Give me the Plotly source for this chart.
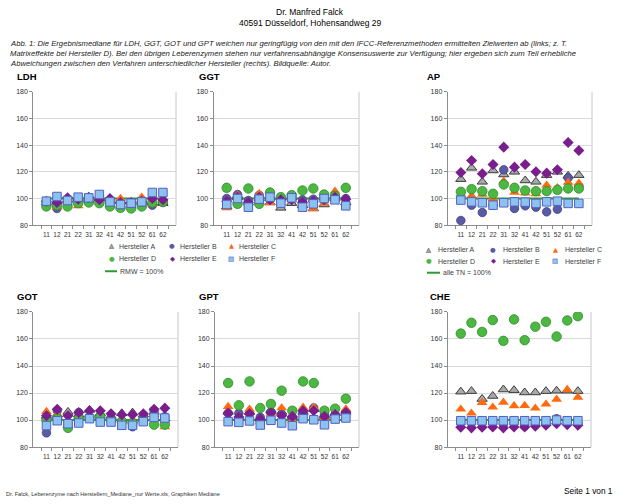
import plotly.graph_objects as go

W, H = 620, 504
FONT = "Liberation Sans, Arial, sans-serif"

categories = ["11", "12", "21", "22", "31", "32", "41", "42", "51", "52", "61", "62"]
series_names = ["Hersteller A", "Hersteller B", "Hersteller C", "Hersteller D", "Hersteller E", "Hersteller F"]
y_ticks = [80, 100, 120, 140, 160, 180]
ref_line = [100, 100, 100, 100, 100, 100, 100, 100, 100, 100, 100, 100]

ldh_a = [97, 98, 99, 100, 99, 100, 99, 98, 97, 98, 97, 96.5]
ldh_b = [97, 92.5, 98, 99, 100, 100, 97, 96, 96, 96, 95, 97]
ldh_c = [97, 93.5, 99, 94.5, 101, 101, 99, 100, 97, 101, 96, 98]
ldh_d = [94, 95, 94, 96.5, 97, 96.5, 94, 93, 92.5, 94, 97, 97.5]
ldh_e = [98, 97, 100.5, 99.5, 101, 99, 100, 97, 97, 98, 100, 99]
ldh_f = [98, 101.5, 98.5, 101, 100.5, 103, 97.5, 95.5, 96.5, 97.5, 104.5, 104.5]

ggt_a = [94, 101, 97, 100, 97, 93, 96.5, 95, 92.5, 95.5, 100, 97]
ggt_b = [100, 103, 98.5, 102.5, 100, 99, 100.5, 99, 99.5, 100, 100, 100]
ggt_c = [93, 102.5, 97, 103.5, 97, 97, 99, 96.5, 92.5, 96.5, 105.5, 98]
ggt_d = [108, 96, 107.5, 96, 104.5, 101, 102.5, 106, 107.5, 103, 102, 108]
ggt_e = [98, 101, 97, 101, 99, 99, 99, 97, 98, 99, 101, 99.5]
ggt_f = [95.5, 100, 93.5, 99.5, 101, 96.5, 100.5, 93.5, 96, 100, 99, 94.5]

ap_a = [114.5, 123, 112.5, 121, 118, 120, 113.5, 112.5, 117.5, 120, 117, 117.5]
ap_b = [83.5, 95, 89.5, 95, 121.5, 92.5, 94.5, 93.5, 90, 92, 115.5, 109]
ap_c = [103, 102, 103, 100, 113, 104.5, 104, 103.5, 110, 108, 112, 111.5]
ap_d = [105, 107, 105.5, 103.5, 110.5, 108, 106, 105.5, 105.5, 106.5, 107.5, 107.5]
ap_e = [119.5, 128.5, 118.5, 125.5, 138.5, 123.5, 125.5, 120, 119, 121.5, 142, 136]
ap_f = [98.8, 97.5, 96.8, 95, 96.8, 97.5, 97.3, 96.3, 97.5, 98, 96.3, 96.3]

got_a = [103, 104, 106, 104, 107.5, 105, 103, 105, 105.5, 104, 106, 101]
got_b = [90.5, 107, 97, 105.5, 102, 101, 101, 99, 95, 100, 107, 102.5]
got_c = [106.3, 104, 100, 103, 104, 103.5, 102, 100, 100, 102, 104, 95]
got_d = [100, 101, 94.2, 101, 102, 102.5, 100, 99, 98, 100, 96.6, 96.6]
got_e = [103.2, 108, 103.2, 105.6, 106.8, 106.8, 104.6, 103.9, 103.9, 104.6, 108, 108.8]
got_f = [95.9, 99.5, 97.3, 97.8, 101, 98.5, 98.5, 96.1, 96.1, 98.8, 102, 101.5]

gpt_a = [106, 102, 106, 101, 107.5, 106, 103, 106, 108, 103, 105, 106]
gpt_b = [105, 105, 105, 102, 106, 104, 101, 106, 109, 104, 104, 106]
gpt_c = [110, 103, 108, 99, 105, 109, 100, 109.4, 109.4, 101, 103, 108.1]
gpt_d = [127.4, 110.9, 128.6, 108.9, 111.9, 121.7, 106.9, 128.6, 127.4, 106.9, 108.4, 115.8]
gpt_e = [105.2, 102.2, 104.7, 100.7, 105.2, 103.2, 102.7, 106.9, 106.9, 102.7, 104, 105.7]
gpt_f = [98.8, 98.3, 99.3, 96.3, 99.8, 97.8, 95.8, 101, 100.2, 96.5, 100.7, 101.5]

che_a = [121, 121.4, 115.6, 117.8, 122.6, 122.1, 120.4, 120.4, 121.4, 121.7, 121.7, 121.4]
che_b = [98, 98, 98, 98, 97, 98, 95.5, 97, 98, 101, 98.5, 98]
che_c = [108, 105.1, 112.9, 109.5, 113.1, 110.5, 110.7, 108.8, 111.7, 115.3, 122.6, 116.8]
che_d = [164, 172, 165.2, 174, 158.6, 174.5, 159.1, 169.1, 172.7, 161.8, 173.7, 176.9]
che_e = [94.6, 94.2, 94.6, 94.9, 94.2, 94.9, 94.9, 95.4, 96.1, 97.3, 96.6, 96.1]
che_f = [99.5, 99.5, 99.5, 99.5, 99.5, 99.5, 99.5, 99.5, 99.5, 100, 99.5, 99.5]

panel_titles = ["LDH", "GGT", "AP", "GOT", "GPT", "CHE"]
panel_data = [
    [ldh_a, ldh_b, ldh_c, ldh_d, ldh_e, ldh_f],
    [ggt_a, ggt_b, ggt_c, ggt_d, ggt_e, ggt_f],
    [ap_a, ap_b, ap_c, ap_d, ap_e, ap_f],
    [got_a, got_b, got_c, got_d, got_e, got_f],
    [gpt_a, gpt_b, gpt_c, gpt_d, gpt_e, gpt_f],
    [che_a, che_b, che_c, che_d, che_e, che_f],
]

# --- layout helpers (pixel -> paper) ---
def X(px):
    return px / W

def Y(py):
    return 1 - py / H

# plot areas in pixels: (left, right, top, bottom)
boxes = [
    (33.3, 176, 89, 224.3),
    (213.5, 359, 89, 224.3),
    (447.7, 592, 89, 224.3),
    (33.3, 178, 312.3, 449.3),
    (215, 359, 312.3, 449.3),
    (447.7, 591, 312.3, 449.3),
]
title_pos = [(15, 73.5), (197, 73.5), (425, 73.5), (15, 297), (197, 297), (428, 297)]

marker_styles = [
    dict(symbol="triangle-up", size=9, color="#a9a9a9", line=dict(color="#3c3c3c", width=1)),
    dict(symbol="circle", size=8.5, color="#5a5ca3", line=dict(color="#3d3f85", width=0.8)),
    dict(symbol="triangle-up", size=9.5, color="#ff6a10", line=dict(color="#ff6a10", width=0)),
    dict(symbol="circle", size=9.5, color="#4cb842", line=dict(color="#2f8a2a", width=0.8)),
    dict(symbol="diamond", size=8.5, color="#7a1e8e", line=dict(color="#7a1e8e", width=0)),
    dict(symbol="square", size=8.5, color="#8ec2ee", line=dict(color="#5060c4", width=1)),
]
GREEN = "#2f9a30"

fig = go.Figure()
layout = dict(
    width=W, height=H, margin=dict(l=0, r=0, t=0, b=0),
    paper_bgcolor="white", plot_bgcolor="white", showlegend=False,
    font=dict(family=FONT, size=7, color="#333333"),
)
annotations = []
shapes = []

for i, (title, series) in enumerate(zip(panel_titles, panel_data)):
    n = "" if i == 0 else str(i + 1)
    xa, ya = "x" + n, "y" + n
    l, r, t, b = boxes[i]
    layout["xaxis" + n] = dict(
        domain=[X(l), X(r)], anchor=ya, type="category", categoryorder="array",
        categoryarray=categories, tickson="boundaries", ticks="outside", ticklen=3,
        tickcolor="#8c8c8c", showline=True, linecolor="#8c8c8c", linewidth=1,
        showgrid=False, zeroline=False, tickangle=0, ticklabelstandoff=3,
        tickfont=dict(size=6.5, color="#333333"), fixedrange=True,
    )
    layout["yaxis" + n] = dict(
        domain=[Y(b), Y(t)], anchor=xa, range=[80, 180], tickvals=y_ticks,
        ticks="outside", ticklen=3, tickcolor="#8c8c8c", showline=True,
        linecolor="#8c8c8c", linewidth=1, showgrid=True, gridcolor="#d9d9d9",
        gridwidth=1, zeroline=False, tickfont=dict(size=7, color="#333333"),
        fixedrange=True,
    )
    # frame on the right side of the plot area
    shapes.append(dict(type="line", xref=xa + " domain", yref=ya + " domain",
                       x0=1, x1=1, y0=0, y1=1, line=dict(color="#c8c8c8", width=1),
                       layer="below"))
    # reference line
    fig.add_trace(go.Scatter(x=categories, y=ref_line, mode="lines",
                             line=dict(color=GREEN, width=2), xaxis=xa, yaxis=ya,
                             hoverinfo="skip"))
    for name, vals, ms in zip(series_names, series, marker_styles):
        fig.add_trace(go.Scatter(x=categories, y=vals, mode="markers", name=name,
                                 marker=ms, xaxis=xa, yaxis=ya))
    tx, ty = title_pos[i]
    annotations.append(dict(text="<b>%s</b>" % title, x=X(tx), y=Y(ty), xref="paper",
                            yref="paper", xanchor="left", yanchor="middle",
                            showarrow=False, font=dict(size=9.5, color="black")))

# --- legends (drawn as text glyphs) ---
legend_glyphs = [
    [("▲", "#a9a9a9"), ("△", "#3c3c3c")],
    [("●", "#5a5ca3")],
    [("▲", "#ff6a10")],
    [("●", "#4cb842")],
    [("◆", "#7a1e8e")],
    [("■", "#8ec2ee"), ("□", "#5060c4")],
]

def add_legend(sym_cols, text_cols, rows, line_x, line_label):
    for k, name in enumerate(series_names):
        row, col = divmod(k, 3)
        for g, c in legend_glyphs[k]:
            annotations.append(dict(text=g, x=X(sym_cols[col]), y=Y(rows[row]),
                                    xref="paper", yref="paper", xanchor="center",
                                    yanchor="middle", showarrow=False,
                                    font=dict(family="DejaVu Sans", size=6.5, color=c)))
        annotations.append(dict(text=name, x=X(text_cols[col]), y=Y(rows[row]),
                                xref="paper", yref="paper", xanchor="left",
                                yanchor="middle", showarrow=False,
                                font=dict(size=7, color="#404040")))
    shapes.append(dict(type="line", xref="paper", yref="paper",
                       x0=X(line_x[0]), x1=X(line_x[1]), y0=Y(rows[2]), y1=Y(rows[2]),
                       line=dict(color=GREEN, width=2)))
    annotations.append(dict(text=line_label, x=X(line_x[1] + 1), y=Y(rows[2]),
                            xref="paper", yref="paper", xanchor="left",
                            yanchor="middle", showarrow=False,
                            font=dict(size=7, color="#404040")))

add_legend([111.5, 172, 231], [117, 177.5, 236.5], [245.5, 258.5, 271], (105, 117), "RMW = 100%")
add_legend([428.5, 493, 555], [436, 500.5, 562.5], [249, 261, 272.5], (427, 440), "alle TN = 100%")

# --- page texts ---
annotations.append(dict(text="Dr. Manfred Falck", x=X(310), y=Y(8), xref="paper",
                        yref="paper", xanchor="center", yanchor="middle",
                        showarrow=False, font=dict(size=8.5, color="black")))
annotations.append(dict(text="40591 Düsseldorf, Hohensandweg 29", x=X(310), y=Y(19.5),
                        xref="paper", yref="paper", xanchor="center", yanchor="middle",
                        showarrow=False, font=dict(size=8.5, color="black")))
caption_lines = [
    "Abb. 1: Die Ergebnismediane für LDH, GGT, GOT und GPT weichen nur geringfügig von den mit den IFCC-Referenzmethoden ermittelten Zielwerten ab (links; z. T.",
    "Matrixeffekte bei Hersteller D). Bei den übrigen Leberenzymen stehen nur verfahrensabhängige Konsensuswerte zur Verfügung; hier ergeben sich zum Teil erhebliche",
    "Abweichungen zwischen den Verfahren unterschiedlicher Hersteller (rechts). Bildquelle: Autor.",
]
for j, line in enumerate(caption_lines):
    annotations.append(dict(text="<i>%s</i>" % line, x=X(7.5), y=Y(40 + j * 10.2),
                            xref="paper", yref="paper", xanchor="left", yanchor="middle",
                            showarrow=False, font=dict(size=7.7, color="#222222")))
annotations.append(dict(text="Dr. Falck, Leberenzyme nach Herstellern_Mediane_nur Werte.xls, Graphiken Mediane",
                        x=X(4), y=Y(497), xref="paper", yref="paper", xanchor="left",
                        yanchor="middle", showarrow=False,
                        font=dict(size=5.6, color="#333333")))
annotations.append(dict(text="Seite 1 von 1", x=X(615), y=Y(494), xref="paper",
                        yref="paper", xanchor="right", yanchor="middle",
                        showarrow=False, font=dict(size=8.3, color="black")))

layout["annotations"] = annotations
layout["shapes"] = shapes
fig.update_layout(**layout)
fig.write_html("out.html", config={"displayModeBar": False},
               post_script="document.body.style.margin='0';document.body.style.overflow='hidden';")
